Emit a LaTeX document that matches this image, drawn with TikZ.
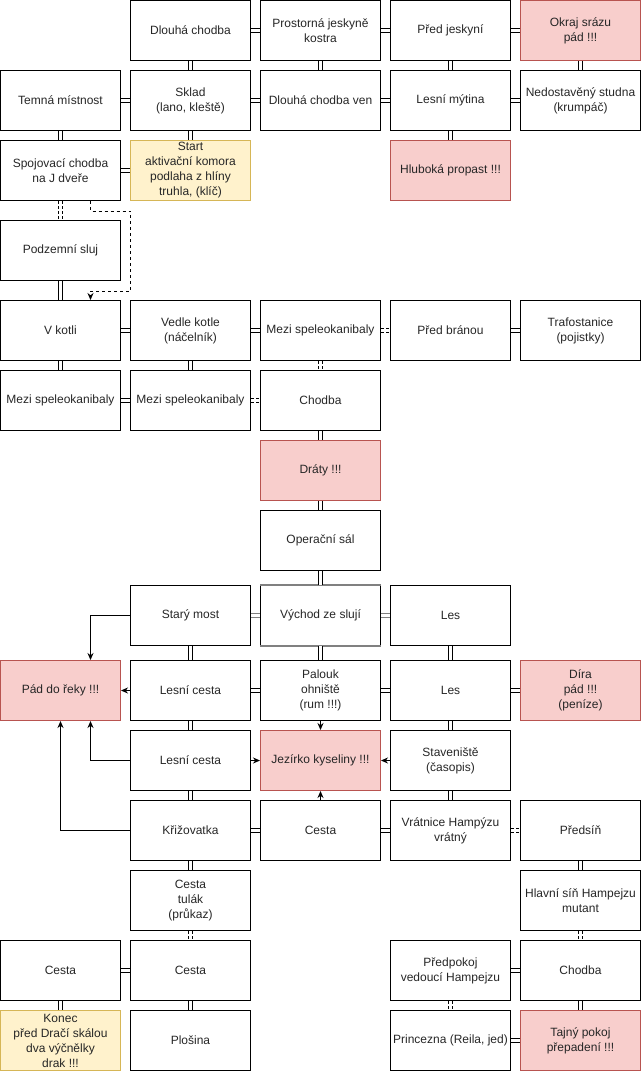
\documentclass[tikz,border=0pt]{standalone}
\usepackage{fontspec}
\setmainfont{Liberation Sans}
\usetikzlibrary{arrows.meta}
\definecolor{dangerfill}{HTML}{F8CECC}
\definecolor{dangerline}{HTML}{B85450}
\definecolor{goalfill}{HTML}{FFF2CC}
\definecolor{goalline}{HTML}{D6B656}
\tikzset{
  room/.style={draw=black, line width=1pt, minimum width=120pt, minimum height=60pt, inner sep=1pt, align=center, text=black!85, font=\fontsize{12}{15}\selectfont},
  danger/.style={room, fill=dangerfill, draw=dangerline},
  goal/.style={room, fill=goalfill, draw=goalline},
  passage/.style={draw=black, line width=1pt, double=white, double distance=2.6pt},
  dashpass/.style={passage, dash pattern=on 3pt off 2pt},
  oneway/.style={line width=1pt, -{Stealth[length=7pt, width=6pt]}},
}
\begin{document}
\begin{tikzpicture}[x=1pt,y=-1pt]
\useasboundingbox (0,0) rectangle (641,1071);
% rooms, row by row
\node[room] (dlouha) at (190.5,30.5) {Dlouhá chodba};
\node[room] (prostorna) at (320.5,30.5) {Prostorná jeskyně\\kostra};
\node[room] (predjesk) at (450.5,30.5) {Před jeskyní};
\node[danger] (okraj) at (580.5,30.5) {Okraj srázu\\pád !!!};
\node[room] (temna) at (60.5,100.5) {Temná místnost};
\node[room] (sklad) at (190.5,100.5) {Sklad\\(lano, kleště)};
\node[room] (chodbaven) at (320.5,100.5) {Dlouhá chodba ven};
\node[room] (mytina) at (450.5,100.5) {Lesní mýtina};
\node[room] (studna) at (580.5,100.5) {Nedostavěný studna\\(krumpáč)};
\node[room] (spojovaci) at (60.5,170.5) {Spojovací chodba\\na J dveře};
\node[goal] (start) at (190.5,170.5) {Start\\aktivační komora\\podlaha z hlíny\\truhla, (klíč)};
\node[danger] (propast) at (450.5,170.5) {Hluboká propast !!!};
\node[room] (sluj) at (60.5,250.5) {Podzemní sluj};
\node[room] (kotel) at (60.5,330.5) {V kotli};
\node[room] (vedle) at (190.5,330.5) {Vedle kotle\\(náčelník)};
\node[room] (mezi) at (320.5,330.5) {Mezi speleokanibaly};
\node[room] (predbrana) at (450.5,330.5) {Před bránou};
\node[room] (trafo) at (580.5,330.5) {Trafostanice\\(pojistky)};
\node[room] (mezia) at (60.5,400.5) {Mezi speleokanibaly};
\node[room] (mezib) at (190.5,400.5) {Mezi speleokanibaly};
\node[room] (chodba) at (320.5,400.5) {Chodba};
\node[danger] (draty) at (320.5,470.5) {Dráty !!!};
\node[room] (operacni) at (320.5,540.5) {Operační sál};
\node[room] (starymost) at (190.5,615.5) {Starý most};
\node[room] (vychod) at (320.5,615.5) {Východ ze slují};
\node[room] (lesa) at (450.5,615.5) {Les};
\node[danger] (pad) at (60.5,690.5) {Pád do řeky !!!};
\node[room] (lcestaa) at (190.5,690.5) {Lesní cesta};
\node[room] (palouk) at (320.5,690.5) {Palouk\\ohniště\\(rum !!!)};
\node[room] (lesb) at (450.5,690.5) {Les};
\node[danger] (dira) at (580.5,690.5) {Díra\\pád !!!\\(peníze)};
\node[room] (lcestab) at (190.5,760.5) {Lesní cesta};
\node[danger] (jezirko) at (320.5,760.5) {Jezírko kyseliny !!!};
\node[room] (staveniste) at (450.5,760.5) {Staveniště\\(časopis)};
\node[room] (krizovatka) at (190.5,830.5) {Křižovatka};
\node[room] (cesta) at (320.5,830.5) {Cesta};
\node[room] (vratnice) at (450.5,830.5) {Vrátnice Hampýzu\\vrátný};
\node[room] (predsin) at (580.5,830.5) {Předsíň};
\node[room] (tulak) at (190.5,900.5) {Cesta\\tulák\\(průkaz)};
\node[room] (hlavni) at (580.5,900.5) {Hlavní síň Hampejzu\\mutant};
\node[room] (cestaa) at (60.5,970.5) {Cesta};
\node[room] (cestab) at (190.5,970.5) {Cesta};
\node[room] (predpokoj) at (450.5,970.5) {Předpokoj\\vedoucí Hampejzu};
\node[room] (chodbab) at (580.5,970.5) {Chodba};
\node[goal] (konec) at (60.5,1040.5) {Konec\\před Dračí skálou\\dva výčnělky\\drak !!!};
\node[room] (plosina) at (190.5,1040.5) {Plošina};
\node[room] (princezna) at (450.5,1040.5) {Princezna (Reila, jed)};
\node[danger] (tajny) at (580.5,1040.5) {Tajný pokoj\\přepadení !!!};
\draw[gray, line width=2pt] (vychod.north west) -- (vychod.north east) (vychod.south west) -- (vychod.south east);
% passages
\draw[passage] (dlouha) -- (prostorna);
\draw[passage] (prostorna) -- (predjesk);
\draw[passage] (predjesk) -- (okraj);
\draw[passage] (dlouha) -- (sklad);
\draw[passage] (prostorna) -- (chodbaven);
\draw[passage] (predjesk) -- (mytina);
\draw[passage] (okraj) -- (studna);
\draw[passage] (temna) -- (sklad);
\draw[passage] (sklad) -- (chodbaven);
\draw[passage] (chodbaven) -- (mytina);
\draw[passage] (mytina) -- (studna);
\draw[passage] (temna) -- (spojovaci);
\draw[passage] (sklad) -- (start);
\draw[passage] (mytina) -- (propast);
\draw[passage] (spojovaci) -- (start);
\draw[dashpass] (spojovaci) -- (sluj);
\draw[passage] (sluj) -- (kotel);
\draw[passage] (kotel) -- (vedle);
\draw[passage] (vedle) -- (mezi);
\draw[dashpass] (mezi) -- (predbrana);
\draw[passage] (predbrana) -- (trafo);
\draw[passage] (kotel) -- (mezia);
\draw[passage] (vedle) -- (mezib);
\draw[dashpass] (mezi) -- (chodba);
\draw[passage] (mezia) -- (mezib);
\draw[dashpass] (mezib) -- (chodba);
\draw[passage] (chodba) -- (draty);
\draw[passage] (draty) -- (operacni);
\draw[passage] (operacni) -- (vychod);
\draw[passage, draw=gray] (starymost) -- (vychod);
\draw[passage, draw=gray] (vychod) -- (lesa);
\draw[passage] (starymost) -- (lcestaa);
\draw[passage] (vychod) -- (palouk);
\draw[passage] (lesa) -- (lesb);
\draw[passage] (lcestaa) -- (palouk);
\draw[passage] (palouk) -- (lesb);
\draw[passage] (lesb) -- (dira);
\draw[passage] (lcestaa) -- (lcestab);
\draw[passage] (lesb) -- (staveniste);
\draw[passage] (lcestab) -- (krizovatka);
\draw[passage] (staveniste) -- (vratnice);
\draw[passage] (krizovatka) -- (cesta);
\draw[passage] (cesta) -- (vratnice);
\draw[dashpass] (vratnice) -- (predsin);
\draw[passage] (predsin) -- (hlavni);
\draw[passage] (krizovatka) -- (tulak);
\draw[dashpass] (tulak) -- (cestab);
\draw[dashpass] (hlavni) -- (chodbab);
\draw[passage] (cestaa) -- (cestab);
\draw[passage] (predpokoj) -- (chodbab);
\draw[passage] (cestaa) -- (konec);
\draw[passage] (cestab) -- (plosina);
\draw[dashpass] (predpokoj) -- (princezna);
\draw[passage] (chodbab) -- (tajny);
\draw[passage] (princezna) -- (tajny);
% one-way moves
\draw[oneway, dash pattern=on 3pt off 3pt] ([xshift=30pt]spojovaci.south) -- ++(0,10) -| ++(40,80) -| ([xshift=30pt]kotel.north);
\draw[oneway] (starymost.west) -| ([xshift=30pt]pad.north);
\draw[oneway] (lcestaa) -- (pad);
\draw[oneway] (lcestab.west) -| ([xshift=30pt]pad.south);
\draw[oneway] (krizovatka.west) -| (pad.south);
\draw[oneway] (palouk) -- (jezirko);
\draw[oneway] (lcestab) -- (jezirko);
\draw[oneway] (staveniste) -- (jezirko);
\draw[oneway] (cesta) -- (jezirko);
\end{tikzpicture}
\end{document}
